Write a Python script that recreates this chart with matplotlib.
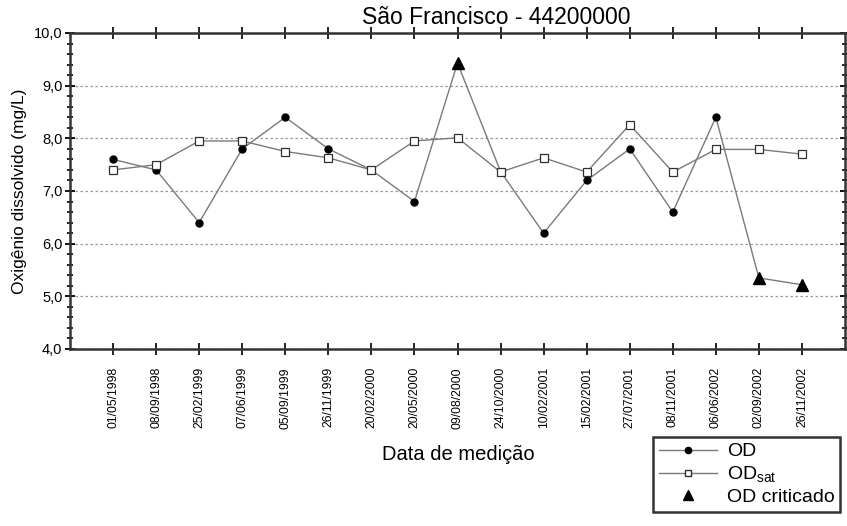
import numpy as np
import matplotlib.pyplot as plt
from matplotlib.ticker import MultipleLocator, FuncFormatter
from matplotlib.lines import Line2D

plt.rcParams['font.family'] = ['Liberation Sans', 'DejaVu Sans']

# Datas de medicao (eixo x categorico)
datas = ['01/05/1998', '08/09/1998', '25/02/1999', '07/06/1999', '05/09/1999',
         '26/11/1999', '20/02/2000', '20/05/2000', '09/08/2000', '24/10/2000',
         '10/02/2001', '15/02/2001', '27/07/2001', '08/11/2001', '06/06/2002',
         '02/09/2002', '26/11/2002']

# OD medido (mg/L)
od = [7.6, 7.4, 6.4, 7.8, 8.4, 7.8, 7.4, 6.8, 9.43, 7.37,
      6.2, 7.2, 7.8, 6.6, 8.4, 5.35, 5.22]

# OD de saturacao (mg/L)
od_sat = [7.4, 7.5, 7.95, 7.95, 7.75, 7.63, 7.4, 7.95, 8.01, 7.36,
          7.63, 7.36, 8.26, 7.36, 7.79, 7.79, 7.7]

# indices dos pontos criticados
criticados = [8, 15, 16]

x = np.arange(1, len(datas) + 1)
od = np.array(od)
normais = [i for i in range(len(od)) if i not in criticados]

fig = plt.figure(figsize=(8.47, 5.26), dpi=100)
ax = fig.add_axes([70 / 847, 1 - 349 / 526, 775 / 847, 316 / 526])

cinza = '#7a7a7a'
ax.plot(x, od, color=cinza, lw=1.0, zorder=2)
ax.plot(x[normais], od[normais], ls='none', marker='o', ms=5,
        color='black', zorder=3)
ax.plot(x, od_sat, color=cinza, lw=1.0, marker='s', ms=5.5,
        mfc='white', mec='#303030', mew=0.9, zorder=3)
ax.plot(x[criticados], od[criticados], ls='none', marker='^', ms=8,
        color='black', zorder=4)

ax.set_xlim(0, 18)
ax.set_ylim(4, 10)
ax.set_xticks(x)
ax.set_xticklabels(datas, rotation=90, fontsize=8.7)
ax.yaxis.set_major_locator(MultipleLocator(1))
ax.yaxis.set_minor_locator(MultipleLocator(0.2))
ax.yaxis.set_major_formatter(FuncFormatter(lambda v, p: f'{v:.1f}'.replace('.', ',')))
ax.tick_params(axis='y', labelsize=10.5, direction='inout', length=7, width=1.3,
               right=True, pad=2)
ax.tick_params(axis='y', which='minor', direction='inout', length=5, width=1.2,
               right=True)
ax.tick_params(axis='x', direction='inout', length=8, width=1.2, top=True, pad=9)
for s in ax.spines.values():
    s.set_linewidth(1.8)
    s.set_color('#333333')

ax.grid(axis='y', ls=(0, (2, 2)), color='#999999', lw=0.9)

ax.set_ylabel('Oxigênio dissolvido (mg/L)', fontsize=12.5, labelpad=5)
fig.text(458 / 847, 1 - 455 / 526, 'Data de medição', fontsize=14.5,
         ha='center', va='center')
fig.text(496 / 847, 1 - 18 / 526, 'São Francisco - 44200000', fontsize=16.5,
         ha='center', va='center')

handles = [
    Line2D([], [], color=cinza, lw=1.0, marker='o', ms=4.5, mfc='black', mec='black'),
    Line2D([], [], color=cinza, lw=1.0, marker='s', ms=4.5, mfc='white', mec='#303030'),
    Line2D([], [], ls='none', marker='^', ms=7, color='black'),
]
labels = ['OD', r'OD$_{\mathregular{sat}}$', 'OD criticado']
leg = fig.legend(handles, labels, loc='upper left', bbox_to_anchor=(653 / 847, 1 - 437 / 526),
                 fontsize=14, frameon=True, fancybox=False, edgecolor='black',
                 borderpad=0.3, labelspacing=0.2, handlelength=3.0, handletextpad=0.5,
                 borderaxespad=0)
leg.get_frame().set_linewidth(1.8)

fig.savefig('out.png', dpi=100)
